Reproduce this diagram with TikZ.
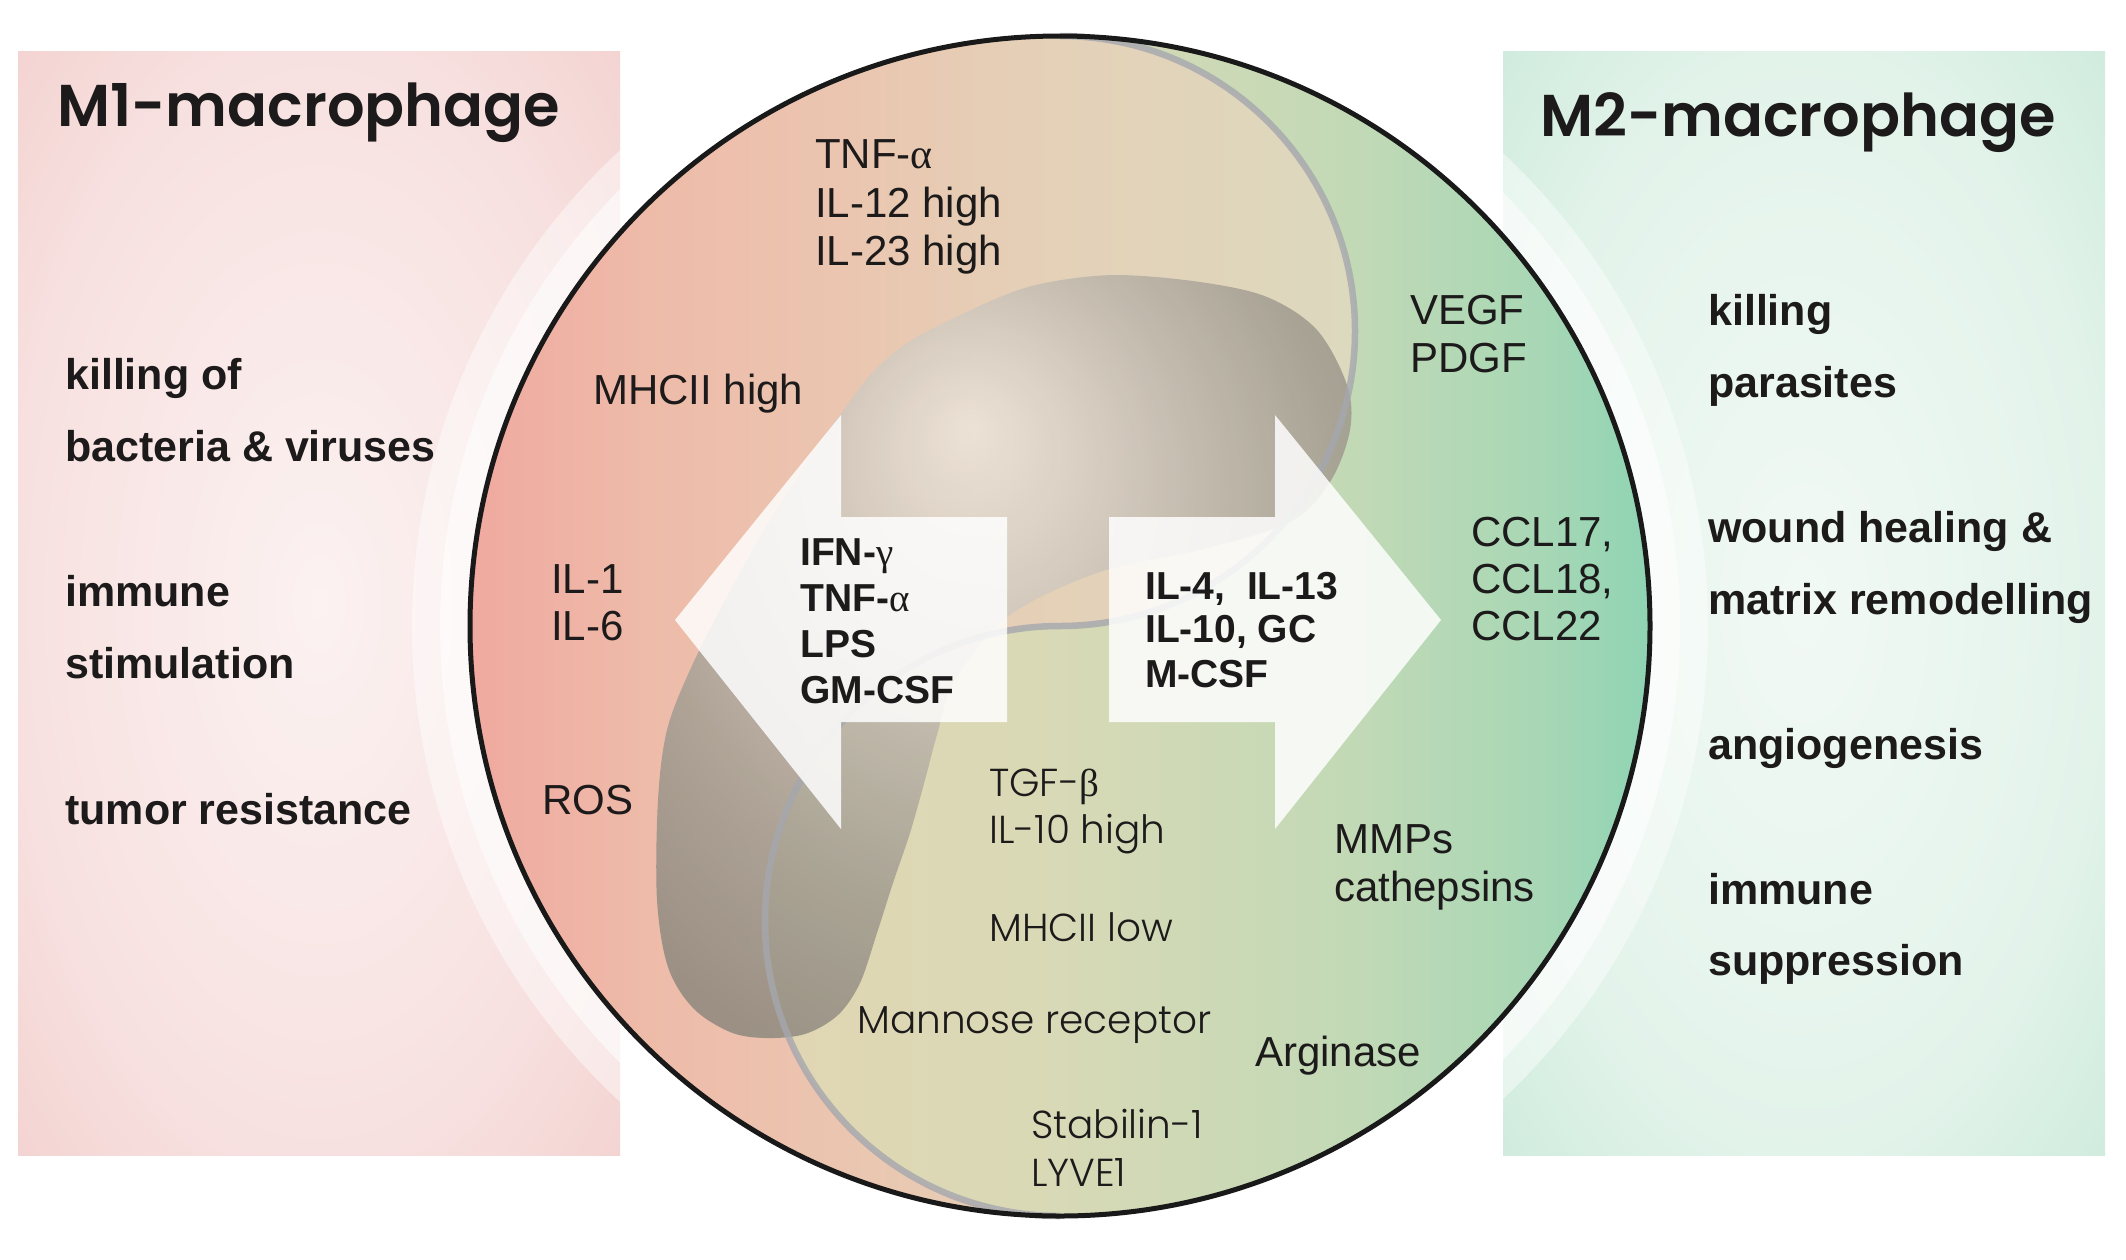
\documentclass[tikz,border=0pt]{standalone}
\usepackage{fontspec}
\setmainfont{Liberation Sans}
\newfontfamily\geobase{Poppins}
\IfFontExistsTF{Poppins Light}{\newfontfamily\geofont{Poppins Light}}{\let\geofont\geobase}
\IfFontExistsTF{Poppins SemiBold}{\newfontfamily\ttlfont{Poppins SemiBold}}{\newcommand\ttlfont{\geobase\bfseries}}
\newfontfamily\grkfont{Liberation Serif}
\newcommand\grka{{\grkfont\mdseries α}}
\newcommand\grkb{{\grkfont\mdseries β}}
\newcommand\grkg{{\grkfont\mdseries γ}}
\definecolor{txt}{HTML}{1C1A1A}
\definecolor{lpA}{HTML}{F0A9A0}
\definecolor{lpB}{HTML}{EEBBA9}
\definecolor{lpC}{HTML}{EAC7B1}
\definecolor{lpD}{HTML}{E4D1B8}
\definecolor{lpE}{HTML}{DCD9BE}
\definecolor{rgA}{HTML}{E8D2B5}
\definecolor{rgB}{HTML}{E2D6B3}
\definecolor{rgC}{HTML}{D8D9B6}
\definecolor{rgD}{HTML}{C2D9B6}
\definecolor{rgE}{HTML}{A8D7B5}
\definecolor{rgF}{HTML}{8FD4B4}
\definecolor{blA}{HTML}{EDE5DA}
\definecolor{blB}{HTML}{D7CFC4}
\definecolor{blC}{HTML}{BDB6AB}
\definecolor{blD}{HTML}{A49E92}
\definecolor{blE}{HTML}{918A80}
\definecolor{blF}{HTML}{837A70}
\definecolor{blG}{HTML}{7A7168}
\definecolor{pnA}{HTML}{FBF2F1}
\definecolor{pnB}{HTML}{F7E1E0}
\definecolor{pnC}{HTML}{F3D3D1}
\definecolor{gnA}{HTML}{F2F9F5}
\definecolor{gnB}{HTML}{E2F3EA}
\definecolor{gnC}{HTML}{CFEBDD}
\definecolor{yyline}{HTML}{A5A7AE}
\pgfdeclarehorizontalshading{leftyin}{100bp}{color(0bp)=(lpA); color(25bp)=(lpA); color(35bp)=(lpB); color(47.6bp)=(lpC); color(58bp)=(lpD); color(75bp)=(lpE); color(100bp)=(lpE)}
\pgfdeclarehorizontalshading{rightyang}{100bp}{color(0bp)=(rgA); color(25bp)=(rgA); color(37.5bp)=(rgB); color(50bp)=(rgC); color(62.5bp)=(rgD); color(70.3bp)=(rgE); color(75bp)=(rgF); color(100bp)=(rgF)}
\pgfdeclareradialshading{blobshade}{\pgfpoint{-2.5bp}{15bp}}{color(0bp)=(blA); color(8bp)=(blB); color(16bp)=(blC); color(25bp)=(blD); color(35bp)=(blE); color(45bp)=(blF); color(60bp)=(blG)}
\pgfdeclareradialshading{pinkpanel}{\pgfpoint{0bp}{0bp}}{color(0bp)=(pnA); color(25bp)=(pnB); color(36bp)=(pnC); color(50bp)=(pnC)}
\pgfdeclareradialshading{greenpanel}{\pgfpoint{0bp}{0bp}}{color(0bp)=(gnA); color(25bp)=(gnB); color(36bp)=(gnC); color(50bp)=(gnC)}
\tikzset{
  ttl/.style={font=\ttlfont\fontsize{59}{64}\selectfont, text=txt, anchor=base west, inner sep=0pt},
  pan/.style={font=\bfseries\fontsize{43}{50}\selectfont, text=txt, anchor=base west, inner sep=0pt},
  reg/.style={font=\fontsize{42}{50}\selectfont, text=txt, anchor=base west, inner sep=0pt},
  geo/.style={font=\geofont\fontsize{39}{46}\selectfont, text=txt, anchor=base west, inner sep=0pt},
  bld/.style={font=\bfseries\fontsize{39}{46}\selectfont, text=txt, anchor=base west, inner sep=0pt},
  arrowshape/.style={fill=white, fill opacity=0.84},
}
\begin{document}
\begin{tikzpicture}[x=1pt,y=-1pt]
\useasboundingbox (0,0) rectangle (2126,1259);
\fill[white] (0,0) rectangle (2126,1259);
% panels
\shade[shading=pinkpanel] (18,51) rectangle (620,1155);
\shade[shading=greenpanel] (1503,51) rectangle (2105,1155);
% halo
\fill[white,opacity=0.45] (1060,626) circle[radius=648];
\fill[white,opacity=0.55] (1060,626) circle[radius=620];
% circle fills
\shade[shading=rightyang] (1060,626) circle[radius=590];
\shade[shading=leftyin] (1060,36) arc[start angle=270, end angle=90, radius=590]
   arc[start angle=90, end angle=270, radius=295]
   arc[start angle=90, end angle=-90, radius=295] -- cycle;
% blob
\shade[shading=blobshade, opacity=0.87] plot[smooth cycle, tension=0.55] coordinates {
 (1117,275) (1200,282) (1267,297) (1317,330) (1347,385) (1350,430) (1330,482) (1290,522)
 (1200,550) (1100,572) (1010,615) (955,680) (937,735) (925,780) (910,833) (893,883)
 (877,933) (860,983) (838,1015) (805,1034) (765,1038) (730,1032) (693,1008) (668,967)
 (657,900) (658,800) (667,730) (690,670) (725,600) (770,520) (815,450) (845,408)
 (875,370) (917,337) (1000,297) (1050,282)};
% yin-yang line
\draw[yyline, line width=6.5pt, opacity=0.8] (1060,36) arc[start angle=-90, end angle=90, radius=295]
   arc[start angle=270, end angle=90, radius=295];
% arrows
\fill[arrowshape] (675,620) -- (841,415) -- (841,517) -- (1007,517) -- (1007,722) -- (841,722) -- (841,829) -- cycle;
\fill[arrowshape] (1441,620) -- (1275,415) -- (1275,517) -- (1109,517) -- (1109,722) -- (1275,722) -- (1275,829) -- cycle;
% circle border
\draw[black!90, line width=5pt] (1060,626) circle[radius=590];
% titles
\node[ttl] (m1title) at (57,126) {M1-macrophage};
\node[ttl] (m2title) at (1540,136) {M2-macrophage};
% left panel
\node[pan] (l1) at (65,389) {killing of};
\node[pan] (l2) at (65,461) {bacteria \& viruses};
\node[pan] (l3) at (65,606) {immune};
\node[pan] (l4) at (65,678) {stimulation};
\node[pan] (l5) at (65,824) {tumor resistance};
% right panel
\node[pan] (r1) at (1708,325) {killing};
\node[pan] (r2) at (1708,397) {parasites};
\node[pan] (r3) at (1708,542) {wound healing \&};
\node[pan] (r4) at (1708,614) {matrix remodelling};
\node[pan] (r5) at (1708,759) {angiogenesis};
\node[pan] (r6) at (1708,904) {immune};
\node[pan] (r7) at (1708,975) {suppression};
% circle texts regular
\node[reg] (tnf) at (815,168) {TNF-\grka};
\node[reg] (il12) at (815,217) {IL-12 high};
\node[reg] (il23) at (815,265) {IL-23 high};
\node[reg] (mhch) at (593,404) {MHCII high};
\node[reg] (il1) at (551,593) {IL-1};
\node[reg] (il6) at (551,640) {IL-6};
\node[reg] (ros) at (542,814) {ROS};
\node[reg] (vegf) at (1410,324) {VEGF};
\node[reg] (pdgf) at (1410,372) {PDGF};
\node[reg] (ccl17) at (1471,546) {CCL17,};
\node[reg] (ccl18) at (1471,593) {CCL18,};
\node[reg] (ccl22) at (1471,640) {CCL22};
\node[reg] (mmps) at (1334,853) {MMPs};
\node[reg] (cath) at (1334,901) {cathepsins};
\node[reg] (arg) at (1255,1066) {Arginase};
% geometric texts
\node[geo] (tgf) at (989,796) {TGF-\grkb};
\node[geo] (il10) at (989,843) {IL-10 high};
\node[geo] (mhcl) at (989,941) {MHCII low};
\node[geo] (mann) at (857,1033) {Mannose receptor};
\node[geo] (stab) at (1031,1138) {Stabilin-1};
\node[geo] (lyve) at (1031,1186) {LYVE1};
% arrow texts
\node[bld] (a1) at (800,565) {IFN-\grkg};
\node[bld] (a2) at (800,611) {TNF-\grka};
\node[bld] (a3) at (800,657) {LPS};
\node[bld] (a4) at (800,703) {GM-CSF};
\node[bld] (b1) at (1145,599) {IL-4,~~IL-13};
\node[bld] (b2) at (1145,642) {IL-10, GC};
\node[bld] (b3) at (1145,687) {M-CSF};
\end{tikzpicture}
\end{document}
